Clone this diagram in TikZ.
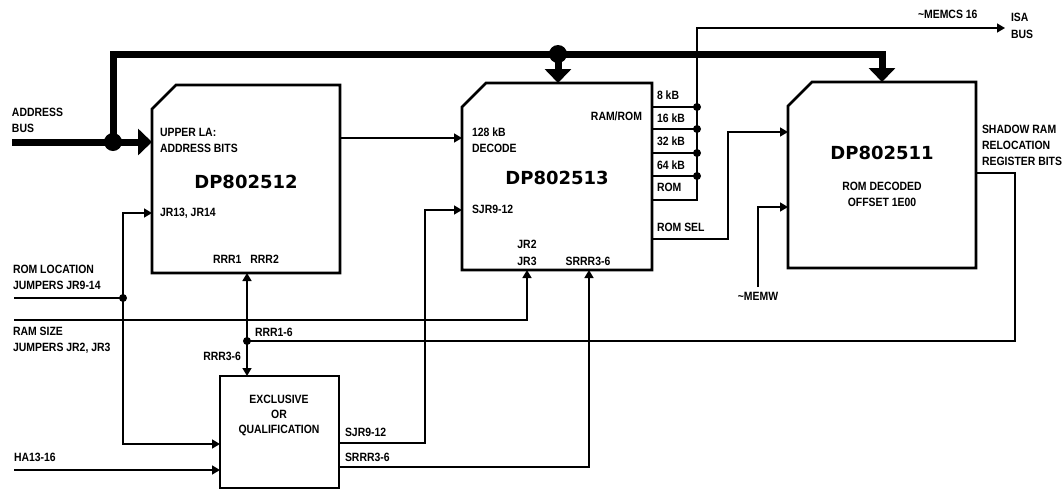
\documentclass[tikz,border=0pt]{standalone}
\usepackage{fontspec}
\setmainfont{Liberation Sans}[FakeStretch=0.87]
\newfontfamily\bigfont{DejaVu Sans}
\usetikzlibrary{arrows.meta,calc}
\begin{document}
\begin{tikzpicture}[x=1pt,y=-1pt,
  blk/.style={draw=none,rectangle,inner sep=0pt,outer sep=0pt},
  boxline/.style={line width=2.6pt,line join=miter},
  sig/.style={line width=1.5pt,line join=miter},
  bus/.style={line width=7pt,line join=miter},
  tip/.tip={Triangle[length=8pt,width=9pt]},
  btip/.tip={Triangle[length=14pt,width=26pt]},
  lbl/.style={font=\fontsize{12}{16}\selectfont\bfseries,inner sep=0pt,outer sep=0pt,align=left,anchor=north west},
  lblc/.style={lbl,align=center,anchor=north},
  lble/.style={lbl,align=right,anchor=north east},
  big/.style={font=\bigfont\fontsize{18}{20}\selectfont\bfseries,inner sep=0pt},
  dot/.style={circle,fill=black,inner sep=0pt,minimum size=8pt},
  bdot/.style={circle,fill=black,inner sep=0pt,minimum size=18pt}
]
\useasboundingbox[fill=white] (0,0) rectangle (1062,491);

% blocks
\node[blk,minimum width=188,minimum height=188] (b12) at (246,179) {};
\node[blk,minimum width=190,minimum height=187] (b13) at (557,176.5) {};
\node[blk,minimum width=188,minimum height=186] (b11) at (882,175) {};
\node[blk,minimum width=119,minimum height=112] (xq) at (279.5,432) {};

\foreach \b in {b12,b13,b11}{
  \draw[boxline] (\b.south west) -- ($(\b.north west)+(0,24)$) -- ($(\b.north west)+(24,0)$) -- (\b.north east) -- (\b.south east) -- cycle;
}
\draw[boxline] (xq.south west) rectangle (xq.north east);

% free ends / junctions
\coordinate (busin) at (12,142);
\coordinate (jb1) at (113,142);
\coordinate (jb2) at (558,54);
\coordinate (jrom) at (123,298);
\coordinate (romin) at (14,298);
\coordinate (ramin) at (14,320);
\coordinate (hain) at (14,470);
\coordinate (jrr) at (247,341);
\coordinate (jv) at (697,200);
\coordinate (isa) at (1005,28);
\coordinate (memw) at (758,287);

% address bus
\draw[bus,-btip] (busin) -- (b12.west |- busin);
\draw[bus,-btip] (jb1) -- (113,54) -- (882,54) -- (b11.north -| 882,0);
\draw[bus,-btip] (jb2) -- (b13.north -| jb2);
\node[bdot] (d1) at (jb1) {};
\node[bdot] (d2) at (jb2) {};

% signals
\draw[sig,-tip] (b12.east |- 0,138) -- (b13.west |- 0,138);
\draw[sig,tip-tip] (b12.west |- 0,213) -- (123,213) -- (123,444) -- (xq.west |- 0,444);
\draw[sig] (romin) -- (jrom);
\node[dot] (d3) at (jrom) {};
\draw[sig,-tip] (ramin) -- (527,320) -- (b13.south -| 527,0);
\draw[sig,tip-tip] (b12.south -| jrr) -- (xq.north -| jrr);
\draw[sig] (b11.east |- 0,173) -- (1015,173) -- (1015,341) -- (jrr);
\node[dot] (d4) at (jrr) {};
\draw[sig,-tip] (xq.east |- 0,443) -- (425,443) -- (425,210) -- (b13.west |- 0,210);
\draw[sig,-tip] (xq.east |- 0,467) -- (589,467) -- (b13.south -| 589,0);
\draw[sig,-tip] (hain) -- (xq.west |- hain);
\draw[sig,-tip] (b13.east |- 0,239) -- (728,239) -- (728,132) -- (b11.west |- 0,132);
\draw[sig,-tip] (memw) -- (758,207) -- (b11.west |- 0,207);
\foreach \yy/\n in {107/a,129/b,153/c,176/d}{
  \draw[sig] (b13.east |- 0,\yy) -- (697,\yy);
  \node[dot] (s\n) at (697,\yy) {};
}
\draw[sig,-tip] (b13.east |- jv) -- (jv) -- (697,28) -- (isa);

% labels
\node[lbl] (t1) at (12,108.5) {ADDRESS\\BUS};
\node[lbl] (t2) at (160,128.5) {UPPER LA:\\ADDRESS BITS};
\node[big] (t3) at (246,182) {DP802512};
\node[lbl] (t4) at (160,208.5) {JR13, JR14};
\node[lbl] (t5) at (213,255.5) {RRR1\hspace{9pt}RRR2};
\node[lbl] (t6) at (13,265.5) {ROM LOCATION\\JUMPERS JR9-14};
\node[lbl] (t7) at (13,327.5) {RAM SIZE\\JUMPERS JR2, JR3};
\node[lbl] (t8) at (255,328.5) {RRR1-6};
\node[lble] (t9) at (241,352.5) {RRR3-6};
\node[lblc,font=\fontsize{12}{15}\selectfont\bfseries] (t10) at (279,395.5) {EXCLUSIVE\\OR\\QUALIFICATION};
\node[lbl] (t11) at (345,428.5) {SJR9-12};
\node[lbl] (t12) at (345,453.5) {SRRR3-6};
\node[lbl] (t13) at (14,453.5) {HA13-16};
\node[lbl] (t14) at (472,127.5) {128 kB\\DECODE};
\node[big] (t15) at (557,178) {DP802513};
\node[lble] (t16) at (642,111.5) {RAM/ROM};
\node[lbl] (t17) at (472,205.5) {SJR9-12};
\node[lblc,font=\fontsize{12}{17}\selectfont\bfseries] (t18) at (527,240.5) {JR2\\JR3};
\node[lblc] (t19) at (588,257.5) {SRRR3-6};
\node[lbl] (k1) at (657,90.5) {8 kB};
\node[lbl] (k2) at (657,113.5) {16 kB};
\node[lbl] (k3) at (657,136.5) {32 kB};
\node[lbl] (k4) at (657,160.5) {64 kB};
\node[lbl] (k5) at (657,183.5) {ROM};
\node[lbl] (t20) at (657,223.5) {ROM SEL};
\node[lbl] (t21) at (918,10.5) {\textasciitilde MEMCS 16};
\node[lbl,font=\fontsize{12}{17}\selectfont\bfseries] (t22) at (1011,13.5) {ISA\\BUS};
\node[big] (t23) at (882,153) {DP802511};
\node[lblc] (t24) at (882,182.5) {ROM DECODED\\OFFSET 1E00};
\node[lbl] (t25) at (982,125.5) {SHADOW RAM\\RELOCATION\\REGISTER BITS};
\node[lblc] (t26) at (758,292.5) {\textasciitilde MEMW};
\end{tikzpicture}
\end{document}
